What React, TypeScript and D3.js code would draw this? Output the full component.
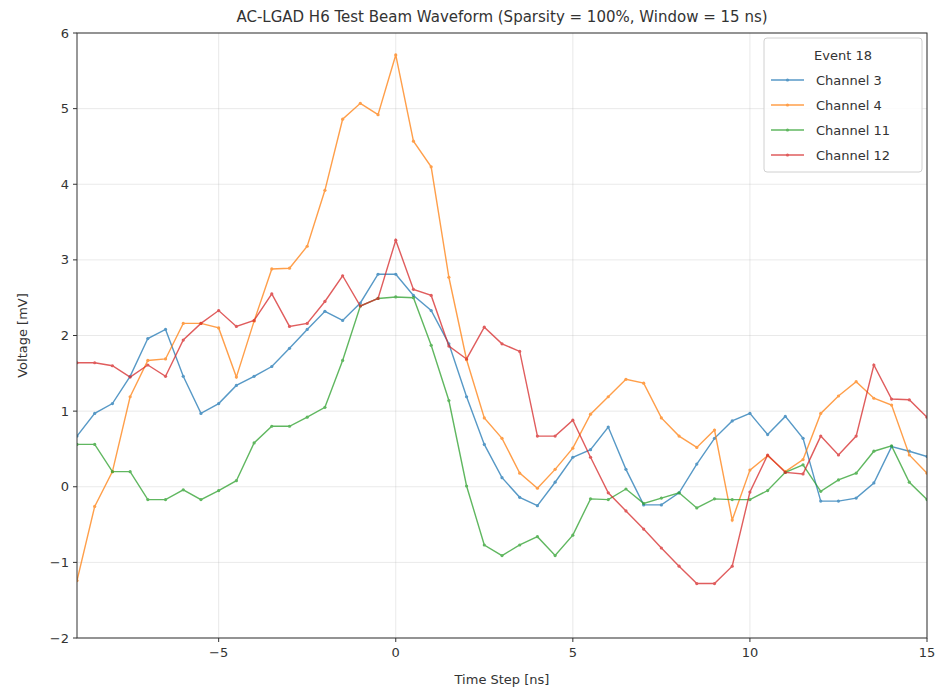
import React from "react";
import * as d3 from "d3";

// Sample times (ns), one every 0.5 ns
const timeSteps: number[] = d3.range(0, 49).map((i) => -9 + i * 0.5);

const channel3: number[] = [
  0.67, 0.97, 1.1, 1.46, 1.96, 2.08, 1.46, 0.97, 1.1, 1.34, 1.46, 1.59, 1.83,
  2.08, 2.32, 2.2, 2.43, 2.81, 2.81, 2.53, 2.33, 1.89, 1.19, 0.56, 0.12, -0.14,
  -0.25, 0.06, 0.39, 0.49, 0.79, 0.23, -0.24, -0.24, -0.08, 0.3, 0.64, 0.87,
  0.97, 0.69, 0.93, 0.64, -0.19, -0.19, -0.15, 0.05, 0.53, 0.47, 0.4,
];

const channel4: number[] = [
  -1.24, -0.26, 0.2, 1.19, 1.67, 1.69, 2.16, 2.16, 2.1, 1.45, 2.19, 2.88, 2.89,
  3.18, 3.92, 4.86, 5.07, 4.92, 5.71, 4.57, 4.23, 2.77, 1.68, 0.91, 0.64, 0.18,
  -0.02, 0.23, 0.51, 0.96, 1.19, 1.42, 1.37, 0.91, 0.67, 0.52, 0.75, -0.44,
  0.22, 0.41, 0.2, 0.36, 0.97, 1.2, 1.39, 1.17, 1.08, 0.42, 0.18,
];

const channel11: number[] = [
  0.56, 0.56, 0.2, 0.2, -0.17, -0.17, -0.04, -0.17, -0.05, 0.08, 0.58, 0.8, 0.8,
  0.92, 1.05, 1.67, 2.39, 2.49, 2.51, 2.5, 1.87, 1.14, 0.01, -0.77, -0.91, -0.77,
  -0.66, -0.91, -0.64, -0.16, -0.17, -0.03, -0.22, -0.15, -0.08, -0.28, -0.16,
  -0.17, -0.17, -0.05, 0.19, 0.29, -0.06, 0.09, 0.18, 0.47, 0.54, 0.06, -0.17,
];

const channel12: number[] = [
  1.64, 1.64, 1.6, 1.45, 1.61, 1.46, 1.94, 2.16, 2.33, 2.12, 2.2, 2.55, 2.12,
  2.16, 2.45, 2.79, 2.39, 2.49, 3.26, 2.61, 2.53, 1.86, 1.69, 2.11, 1.89, 1.79,
  0.67, 0.67, 0.88, 0.39, -0.08, -0.32, -0.56, -0.81, -1.05, -1.28, -1.28, -1.05,
  -0.07, 0.42, 0.19, 0.17, 0.67, 0.42, 0.67, 1.61, 1.16, 1.15, 0.92,
];

const seriesNames: string[] = ["Channel 3", "Channel 4", "Channel 11", "Channel 12"];
const seriesColors: string[] = ["#1f77b4", "#ff7f0e", "#2ca02c", "#d62728"];
const seriesValues: number[][] = [channel3, channel4, channel11, channel12];

const xTicks: number[] = [-5, 0, 5, 10, 15];
const yTicks: number[] = [-2, -1, 0, 1, 2, 3, 4, 5, 6];

const titleText = "AC-LGAD H6 Test Beam Waveform (Sparsity = 100%, Window = 15 ns)";
const legendTitle = "Event 18";

const W = 945;
const H = 692;
const left = 77;
const right = 927;
const top = 33;
const bottom = 638;
const font = "DejaVu Sans, sans-serif";

export default function App() {
  const x = d3.scaleLinear().domain([-9, 15]).range([left, right]);
  const y = d3.scaleLinear().domain([-2, 6]).range([bottom, top]);
  const line = d3
    .line<number>()
    .x((_, i) => x(timeSteps[i]))
    .y((d) => y(d));

  const fmt = (v: number) => (v < 0 ? "\u2212" + Math.abs(v) : String(v));

  const legX = 764;
  const legY = 38;
  const legW = 158;
  const legH = 134;

  return (
    <svg
      width={W}
      height={H}
      style={{ position: "absolute", left: 0, top: 0, background: "#fff" }}
      fontFamily={font}
    >
      <rect x={0} y={0} width={W} height={H} fill="#fff" />
      <defs>
        <clipPath id="plot-clip">
          <rect x={left} y={top} width={right - left} height={bottom - top} />
        </clipPath>
      </defs>

      {/* grid */}
      {xTicks.map((t) => (
        <line
          key={"gx" + t}
          x1={x(t)}
          x2={x(t)}
          y1={top}
          y2={bottom}
          stroke="#b0b0b0"
          strokeOpacity={0.35}
          strokeWidth={0.8}
        />
      ))}
      {yTicks.map((t) => (
        <line
          key={"gy" + t}
          x1={left}
          x2={right}
          y1={y(t)}
          y2={y(t)}
          stroke="#b0b0b0"
          strokeOpacity={0.35}
          strokeWidth={0.8}
        />
      ))}

      {/* series */}
      <g clipPath="url(#plot-clip)">
        {seriesValues.map((vals, si) => (
          <g key={seriesNames[si]} opacity={0.75}>
            <path
              d={line(vals) || ""}
              fill="none"
              stroke={seriesColors[si]}
              strokeWidth={1.4}
            />
            {vals.map((v, i) => (
              <circle
                key={i}
                cx={x(timeSteps[i])}
                cy={y(v)}
                r={1.6}
                fill={seriesColors[si]}
              />
            ))}
          </g>
        ))}
      </g>

      {/* axes frame */}
      <rect
        x={left}
        y={top}
        width={right - left}
        height={bottom - top}
        fill="none"
        stroke="#333"
        strokeWidth={1}
      />

      {/* x ticks */}
      {xTicks.map((t) => (
        <g key={"xt" + t}>
          <line x1={x(t)} x2={x(t)} y1={bottom} y2={bottom + 4} stroke="#333" />
          <text
            x={x(t)}
            y={bottom + 19}
            textAnchor="middle"
            fontSize={13}
            fill="#333"
          >
            {fmt(t)}
          </text>
        </g>
      ))}
      {/* y ticks */}
      {yTicks.map((t) => (
        <g key={"yt" + t}>
          <line x1={left - 4} x2={left} y1={y(t)} y2={y(t)} stroke="#333" />
          <text
            x={left - 8}
            y={y(t) + 4.5}
            textAnchor="end"
            fontSize={13}
            fill="#333"
          >
            {fmt(t)}
          </text>
        </g>
      ))}

      {/* labels */}
      <text x={(left + right) / 2} y={684} textAnchor="middle" fontSize={13} fill="#333">
        Time Step [ns]
      </text>
      <text
        transform={`translate(27, ${(top + bottom) / 2}) rotate(-90)`}
        textAnchor="middle"
        fontSize={13}
        fill="#333"
      >
        Voltage [mV]
      </text>
      <text x={(left + right) / 2} y={22} textAnchor="middle" fontSize={15} fill="#333">
        {titleText}
      </text>

      {/* legend */}
      <g>
        <rect
          x={legX}
          y={legY}
          width={legW}
          height={legH}
          rx={3}
          fill="#fff"
          fillOpacity={0.85}
          stroke="#d0d0d0"
        />
        <text
          x={legX + legW / 2}
          y={legY + 22}
          textAnchor="middle"
          fontSize={13}
          fill="#333"
        >
          {legendTitle}
        </text>
        {seriesNames.map((n, i) => {
          const cy = legY + 42 + i * 25;
          return (
            <g key={n} >
              <g opacity={0.75}>
                <line
                  x1={legX + 7}
                  x2={legX + 40}
                  y1={cy}
                  y2={cy}
                  stroke={seriesColors[i]}
                  strokeWidth={1.4}
                />
                <circle cx={legX + 23.5} cy={cy} r={1.6} fill={seriesColors[i]} />
              </g>
              <text x={legX + 52} y={cy + 5} fontSize={13} fill="#333">
                {n}
              </text>
            </g>
          );
        })}
      </g>
    </svg>
  );
}
